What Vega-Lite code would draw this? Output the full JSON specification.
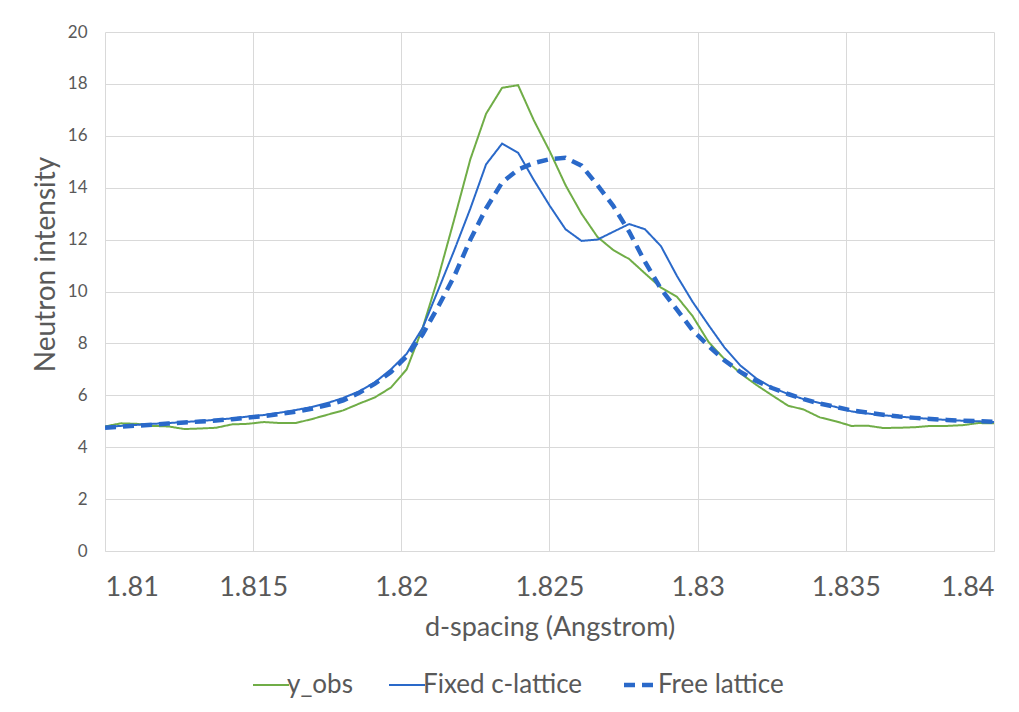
{
  "$schema": "https://vega.github.io/schema/vega-lite/v6.json",
  "width": 889,
  "height": 519,
  "autosize": {"type": "none"},
  "padding": {"left": 105, "top": 32, "right": 25, "bottom": 161},
  "background": "white",
  "config": {
    "font": "Lato",
    "view": {"stroke": null},
    "axis": {"gridColor": "#d9d9d9", "domainColor": "#d9d9d9", "ticks": false, "labelColor": "#595959", "titleColor": "#595959", "titleFontWeight": "normal"},
    "legend": {"labelColor": "#595959"}
  },
  "data": {"values": [
    {"d":1.81,"s":"y_obs","v":4.8},{"d":1.81054,"s":"y_obs","v":4.92},{"d":1.81107,"s":"y_obs","v":4.9},{"d":1.81161,"s":"y_obs","v":4.82},{"d":1.81214,"s":"y_obs","v":4.8},{"d":1.81268,"s":"y_obs","v":4.7},{"d":1.81322,"s":"y_obs","v":4.72},{"d":1.81375,"s":"y_obs","v":4.75},{"d":1.81429,"s":"y_obs","v":4.88},{"d":1.81482,"s":"y_obs","v":4.9},{"d":1.81536,"s":"y_obs","v":4.97},{"d":1.8159,"s":"y_obs","v":4.93},{"d":1.81643,"s":"y_obs","v":4.93},{"d":1.81697,"s":"y_obs","v":5.08},{"d":1.8175,"s":"y_obs","v":5.25},{"d":1.81804,"s":"y_obs","v":5.42},{"d":1.81858,"s":"y_obs","v":5.68},{"d":1.81911,"s":"y_obs","v":5.92},{"d":1.81965,"s":"y_obs","v":6.3},{"d":1.82018,"s":"y_obs","v":7.0},{"d":1.82072,"s":"y_obs","v":8.6},{"d":1.82126,"s":"y_obs","v":10.6},{"d":1.82179,"s":"y_obs","v":12.8},{"d":1.82233,"s":"y_obs","v":15.1},{"d":1.82286,"s":"y_obs","v":16.85},{"d":1.8234,"s":"y_obs","v":17.85},{"d":1.82394,"s":"y_obs","v":17.95},{"d":1.82447,"s":"y_obs","v":16.6},{"d":1.82501,"s":"y_obs","v":15.4},{"d":1.82554,"s":"y_obs","v":14.1},{"d":1.82608,"s":"y_obs","v":13.0},{"d":1.82662,"s":"y_obs","v":12.1},{"d":1.82715,"s":"y_obs","v":11.6},{"d":1.82769,"s":"y_obs","v":11.25},{"d":1.82822,"s":"y_obs","v":10.7},{"d":1.82876,"s":"y_obs","v":10.15},{"d":1.8293,"s":"y_obs","v":9.8},{"d":1.82983,"s":"y_obs","v":9.05},{"d":1.83037,"s":"y_obs","v":8.05},{"d":1.8309,"s":"y_obs","v":7.4},{"d":1.83144,"s":"y_obs","v":6.85},{"d":1.83198,"s":"y_obs","v":6.4},{"d":1.83251,"s":"y_obs","v":6.0},{"d":1.83305,"s":"y_obs","v":5.6},{"d":1.83358,"s":"y_obs","v":5.45},{"d":1.83412,"s":"y_obs","v":5.15},{"d":1.83466,"s":"y_obs","v":5.0},{"d":1.83519,"s":"y_obs","v":4.82},{"d":1.83573,"s":"y_obs","v":4.83},{"d":1.83626,"s":"y_obs","v":4.74},{"d":1.8368,"s":"y_obs","v":4.75},{"d":1.83734,"s":"y_obs","v":4.77},{"d":1.83787,"s":"y_obs","v":4.82},{"d":1.83841,"s":"y_obs","v":4.82},{"d":1.83894,"s":"y_obs","v":4.85},{"d":1.83948,"s":"y_obs","v":4.93},{"d":1.84,"s":"y_obs","v":4.92},
    {"d":1.81,"s":"Fixed c-lattice","v":4.78},{"d":1.81054,"s":"Fixed c-lattice","v":4.82},{"d":1.81107,"s":"Fixed c-lattice","v":4.86},{"d":1.81161,"s":"Fixed c-lattice","v":4.9},{"d":1.81214,"s":"Fixed c-lattice","v":4.93},{"d":1.81268,"s":"Fixed c-lattice","v":4.97},{"d":1.81322,"s":"Fixed c-lattice","v":5.01},{"d":1.81375,"s":"Fixed c-lattice","v":5.06},{"d":1.81429,"s":"Fixed c-lattice","v":5.11},{"d":1.81482,"s":"Fixed c-lattice","v":5.18},{"d":1.81536,"s":"Fixed c-lattice","v":5.24},{"d":1.8159,"s":"Fixed c-lattice","v":5.33},{"d":1.81643,"s":"Fixed c-lattice","v":5.43},{"d":1.81697,"s":"Fixed c-lattice","v":5.55},{"d":1.8175,"s":"Fixed c-lattice","v":5.7},{"d":1.81804,"s":"Fixed c-lattice","v":5.9},{"d":1.81858,"s":"Fixed c-lattice","v":6.15},{"d":1.81911,"s":"Fixed c-lattice","v":6.5},{"d":1.81965,"s":"Fixed c-lattice","v":7.0},{"d":1.82018,"s":"Fixed c-lattice","v":7.6},{"d":1.82072,"s":"Fixed c-lattice","v":8.6},{"d":1.82126,"s":"Fixed c-lattice","v":10.1},{"d":1.82179,"s":"Fixed c-lattice","v":11.6},{"d":1.82233,"s":"Fixed c-lattice","v":13.2},{"d":1.82286,"s":"Fixed c-lattice","v":14.9},{"d":1.8234,"s":"Fixed c-lattice","v":15.7},{"d":1.82394,"s":"Fixed c-lattice","v":15.35},{"d":1.82447,"s":"Fixed c-lattice","v":14.3},{"d":1.82501,"s":"Fixed c-lattice","v":13.3},{"d":1.82554,"s":"Fixed c-lattice","v":12.4},{"d":1.82608,"s":"Fixed c-lattice","v":11.95},{"d":1.82662,"s":"Fixed c-lattice","v":12.0},{"d":1.82715,"s":"Fixed c-lattice","v":12.3},{"d":1.82769,"s":"Fixed c-lattice","v":12.6},{"d":1.82822,"s":"Fixed c-lattice","v":12.4},{"d":1.82876,"s":"Fixed c-lattice","v":11.75},{"d":1.8293,"s":"Fixed c-lattice","v":10.6},{"d":1.82983,"s":"Fixed c-lattice","v":9.6},{"d":1.83037,"s":"Fixed c-lattice","v":8.7},{"d":1.8309,"s":"Fixed c-lattice","v":7.85},{"d":1.83144,"s":"Fixed c-lattice","v":7.15},{"d":1.83198,"s":"Fixed c-lattice","v":6.65},{"d":1.83251,"s":"Fixed c-lattice","v":6.3},{"d":1.83305,"s":"Fixed c-lattice","v":6.05},{"d":1.83358,"s":"Fixed c-lattice","v":5.85},{"d":1.83412,"s":"Fixed c-lattice","v":5.7},{"d":1.83466,"s":"Fixed c-lattice","v":5.55},{"d":1.83519,"s":"Fixed c-lattice","v":5.38},{"d":1.83573,"s":"Fixed c-lattice","v":5.3},{"d":1.83626,"s":"Fixed c-lattice","v":5.23},{"d":1.8368,"s":"Fixed c-lattice","v":5.18},{"d":1.83734,"s":"Fixed c-lattice","v":5.13},{"d":1.83787,"s":"Fixed c-lattice","v":5.09},{"d":1.83841,"s":"Fixed c-lattice","v":5.05},{"d":1.83894,"s":"Fixed c-lattice","v":5.02},{"d":1.83948,"s":"Fixed c-lattice","v":5.0},{"d":1.84,"s":"Fixed c-lattice","v":4.97},
    {"d":1.81,"s":"Free lattice","v":4.75},{"d":1.81054,"s":"Free lattice","v":4.79},{"d":1.81107,"s":"Free lattice","v":4.83},{"d":1.81161,"s":"Free lattice","v":4.87},{"d":1.81214,"s":"Free lattice","v":4.91},{"d":1.81268,"s":"Free lattice","v":4.95},{"d":1.81322,"s":"Free lattice","v":4.99},{"d":1.81375,"s":"Free lattice","v":5.03},{"d":1.81429,"s":"Free lattice","v":5.08},{"d":1.81482,"s":"Free lattice","v":5.14},{"d":1.81536,"s":"Free lattice","v":5.2},{"d":1.8159,"s":"Free lattice","v":5.28},{"d":1.81643,"s":"Free lattice","v":5.37},{"d":1.81697,"s":"Free lattice","v":5.48},{"d":1.8175,"s":"Free lattice","v":5.62},{"d":1.81804,"s":"Free lattice","v":5.8},{"d":1.81858,"s":"Free lattice","v":6.1},{"d":1.81911,"s":"Free lattice","v":6.45},{"d":1.81965,"s":"Free lattice","v":6.9},{"d":1.82018,"s":"Free lattice","v":7.5},{"d":1.82072,"s":"Free lattice","v":8.35},{"d":1.82126,"s":"Free lattice","v":9.45},{"d":1.82179,"s":"Free lattice","v":10.6},{"d":1.82233,"s":"Free lattice","v":12.0},{"d":1.82286,"s":"Free lattice","v":13.2},{"d":1.8234,"s":"Free lattice","v":14.2},{"d":1.82394,"s":"Free lattice","v":14.7},{"d":1.82447,"s":"Free lattice","v":14.95},{"d":1.82501,"s":"Free lattice","v":15.1},{"d":1.82554,"s":"Free lattice","v":15.15},{"d":1.82608,"s":"Free lattice","v":14.85},{"d":1.82662,"s":"Free lattice","v":14.1},{"d":1.82715,"s":"Free lattice","v":13.3},{"d":1.82769,"s":"Free lattice","v":12.3},{"d":1.82822,"s":"Free lattice","v":11.15},{"d":1.82876,"s":"Free lattice","v":10.1},{"d":1.8293,"s":"Free lattice","v":9.3},{"d":1.82983,"s":"Free lattice","v":8.5},{"d":1.83037,"s":"Free lattice","v":7.9},{"d":1.8309,"s":"Free lattice","v":7.35},{"d":1.83144,"s":"Free lattice","v":6.9},{"d":1.83198,"s":"Free lattice","v":6.55},{"d":1.83251,"s":"Free lattice","v":6.28},{"d":1.83305,"s":"Free lattice","v":6.05},{"d":1.83358,"s":"Free lattice","v":5.85},{"d":1.83412,"s":"Free lattice","v":5.68},{"d":1.83466,"s":"Free lattice","v":5.55},{"d":1.83519,"s":"Free lattice","v":5.42},{"d":1.83573,"s":"Free lattice","v":5.33},{"d":1.83626,"s":"Free lattice","v":5.25},{"d":1.8368,"s":"Free lattice","v":5.18},{"d":1.83734,"s":"Free lattice","v":5.13},{"d":1.83787,"s":"Free lattice","v":5.09},{"d":1.83841,"s":"Free lattice","v":5.05},{"d":1.83894,"s":"Free lattice","v":5.02},{"d":1.83948,"s":"Free lattice","v":5.0},{"d":1.84,"s":"Free lattice","v":4.98}
  ]},
  "mark": {"type": "line", "clip": true},
  "encoding": {
    "x": {"field": "d", "type": "quantitative",
      "scale": {"domain": [1.81, 1.84], "nice": false, "zero": false},
      "axis": {"values": [1.81, 1.815, 1.82, 1.825, 1.83, 1.835, 1.84], "format": ".3~f", "labelFontSize": 27, "labelPadding": 23, "title": "d-spacing (Angstrom)", "titleFontSize": 27, "titlePadding": 14}},
    "y": {"field": "v", "type": "quantitative",
      "scale": {"domain": [0, 20], "nice": false},
      "axis": {"values": [0, 2, 4, 6, 8, 10, 12, 14, 16, 18, 20], "labelFontSize": 17, "labelPadding": 18, "title": "Neutron intensity", "titleFontSize": 28, "titlePadding": 7, "titleY": 232, "domain": false}},
    "color": {"field": "s", "type": "nominal", "title": null,
      "scale": {"domain": ["y_obs", "Fixed c-lattice", "Free lattice"], "range": ["#70ad47", "#2a69c9", "#2a69c9"]},
      "legend": {"orient": "none", "direction": "horizontal", "legendX": 153, "legendY": 640, "labelFontSize": 26, "symbolType": "stroke", "symbolSize": 1296, "labelOffset": 3, "columnPadding": 32,
        "encode": {"symbols": {"update": {"strokeWidth": {"signal": "datum.value === 'Free lattice' ? 4.5 : 2"}}}}}},
    "strokeDash": {"field": "s", "type": "nominal", "title": null,
      "scale": {"domain": ["y_obs", "Fixed c-lattice", "Free lattice"], "range": [[1, 0], [1, 0], [11, 7]]}},
    "strokeWidth": {"condition": {"test": "datum.s === 'Free lattice'", "value": 4.5}, "value": 2}
  }
}
